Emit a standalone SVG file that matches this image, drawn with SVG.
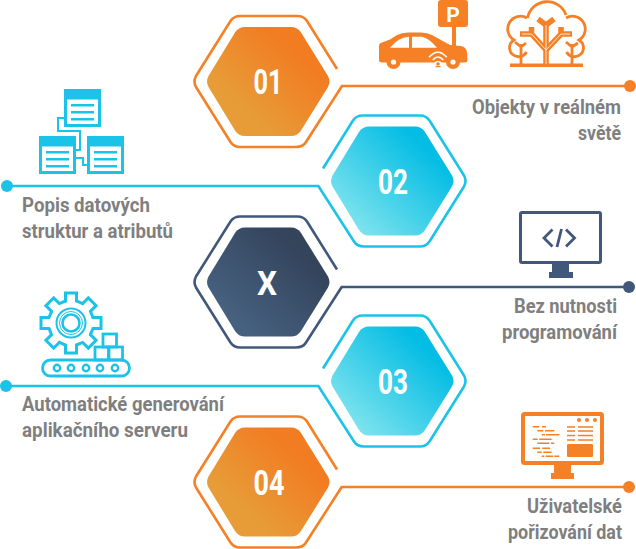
<svg xmlns="http://www.w3.org/2000/svg" xmlns:xlink="http://www.w3.org/1999/xlink" width="636" height="549" viewBox="0 0 636 549">
<style>
.lab{font-family:Roboto,"Liberation Sans",sans-serif;font-weight:700;font-size:19.500px;fill:#7f7f7f}
.num{font-family:Roboto,"Liberation Sans",sans-serif;font-weight:700;font-size:35px;fill:#fff;text-anchor:middle}
.outl{fill:none;stroke-width:2.600;stroke-linecap:butt}
.o{stroke:#f58025}.b{stroke:#1cc3e8}.d{stroke:#41587a}
.conn{stroke-width:2.600}
.bi{fill:none;stroke:#1cc3e8;stroke-width:2.800}
</style>
<defs>
<linearGradient id="go" x1="0.1" y1="0.85" x2="0.85" y2="0.15"><stop offset="0.2" stop-color="#e79c38"/><stop offset="0.85" stop-color="#f27c22"/></linearGradient>
<linearGradient id="gb" x1="0.1" y1="0.85" x2="0.85" y2="0.15"><stop offset="0" stop-color="#80e4ee"/><stop offset="0.9" stop-color="#05bde4"/></linearGradient>
<linearGradient id="gd" x1="0.1" y1="0.85" x2="0.85" y2="0.15"><stop offset="0.1" stop-color="#46607f"/><stop offset="0.9" stop-color="#33445b"/></linearGradient>
<path id="inner" d="M208.500,76 L235,32.500 Q238.500,27 245,27 L291,27 Q297.500,27 301,32.500 L328,76 Q331,81.500 328,87 L301,130.500 Q297.500,136 291,136 L245,136 Q238.500,136 235,130.500 L208.500,87 Q205.500,81.500 208.500,76 Z"/>
<path id="outer" d="M337,69 L307,21 Q304,16 297,16 L240,16 Q234,16 230.500,21 L196,76 Q193,81.500 196,87 L230.500,142 Q234,147 240,147 L296,147 Q303,147 306,142 L342,86"/>
<path id="tooth" d="M-5.500,-22 L-5.500,-30 L5.500,-30 L5.500,-22 L11.700,-19.400"/>
</defs>

<g id="connectors" class="conn">
<line x1="341" y1="86" x2="630" y2="86" stroke="#f58025"/><circle cx="630" cy="86" r="6" fill="#f58025"/>
<line x1="7" y1="186" x2="319" y2="186" stroke="#1cc3e8"/><circle cx="7" cy="186" r="6" fill="#1cc3e8"/>
<line x1="341" y1="287" x2="630" y2="287" stroke="#41587a"/><circle cx="629" cy="287" r="6" fill="#41587a"/>
<line x1="6" y1="386" x2="319" y2="386" stroke="#1cc3e8"/><circle cx="6" cy="386" r="6" fill="#1cc3e8"/>
<line x1="341" y1="487" x2="630" y2="487" stroke="#f58025"/><circle cx="629" cy="487" r="6" fill="#f58025"/>
</g>

<g id="node-01">
<use xlink:href="#inner" href="#inner" fill="url(#go)"/>
<use xlink:href="#outer" href="#outer" class="outl o"/>
<text class="num" x="268" y="94" textLength="29" lengthAdjust="spacingAndGlyphs">01</text>
<path d="M438,3 Q438,0 441,0 L465,0 Q468,0 468,3 L468,24 Q468,27 465,27 L441,27 Q438,27 438,24 Z" fill="#f58025"/>
<text x="453" y="22" font-family="Roboto,'Liberation Sans',sans-serif" font-weight="700" font-size="21" fill="#fff" text-anchor="middle">P</text>
<rect x="452" y="27" width="4" height="20" fill="#f58025"/>
<path d="M379,46 Q379,43 382,42.500 L390,39.500 L397,35 Q402,32.500 408,32.500 L421,32.500 Q427,32.500 432,35 L450,45 L461,46 Q466,47 467,52 L467.500,60 Q467.500,62.500 464,62.500 L382,62.500 Q379,62.500 379,60 Z" fill="#f58025"/>
<circle cx="393.500" cy="62" r="7" fill="#f58025"/><circle cx="393.500" cy="62" r="2.600" fill="#fff"/>
<circle cx="453" cy="62" r="7" fill="#f58025"/><circle cx="453" cy="62" r="2.600" fill="#fff"/>
<path d="M390,47.700 Q399,37 409,36.700 L409,47.700 Z M412,36.700 L422,36.700 Q429,38 437,47.700 L412,47.700 Z" fill="#fff"/>
<path d="M429,57.300 Q438,47 446.700,57.300 M432.700,60 Q438,54 443.300,60" fill="none" stroke="#fff" stroke-width="1.500"/>
<circle cx="438" cy="65" r="4" fill="#fff"/><circle cx="438" cy="64" r="1.800" fill="#f58025"/><rect x="435.500" y="66" width="5" height="1.200" fill="#f58025"/>
<g fill="none" stroke="#f58025" stroke-width="2.800">
<path d="M527.500,18 A20,20 0 0 1 566,15 M566,18 A11,11 0 0 1 579,40 A9,9 0 1 1 566.500,52 M527,18 A11,11 0 0 0 514,40 A9,9 0 1 0 526.500,52"/>
<path d="M521,65 V44 M515,42 L521,47 L526,43 M572,65 V44 M566,42 L572,47 L578,43"/>
</g>
<rect x="510" y="63.500" width="73" height="3.500" fill="#f58025"/>
<path d="M546,65 V26 M546,25 L538,19 M546,25 L554,19 M546,50 L531.500,34 L520,34 M531.500,34 V27 M546,50 L561,34 L572,34 M561,34 V27" fill="none" stroke="#f58025" stroke-width="5.500"/>
<path d="M546,64 V26 M546,50 L531.500,34 L522,34 M546,50 L561,34 L570,34" fill="none" stroke="#fff" stroke-width="0.800"/>
</g>

<g id="node-02">
<use xlink:href="#inner" href="#inner" transform="translate(124 99.500)" fill="url(#gb)"/>
<use xlink:href="#outer" href="#outer" transform="matrix(-1 0 0 1 660 99.500)" class="outl b"/>
<text class="num" x="393" y="194" textLength="30" lengthAdjust="spacingAndGlyphs">02</text>
<path d="M64,118 H58 V131 H80 V150 H76 M76,158 H83 V165 H87" fill="none" stroke="#1cc3e8" stroke-width="2"/>
<g fill="#1cc3e8">
<path fill-rule="evenodd" d="M64,89 H101 V127 H64 Z M67,99.500 V124 H98 V99.500 Z"/>
<path fill-rule="evenodd" d="M39,136 H76 V174 H39 Z M42,146.500 V171 H73 V146.500 Z"/>
<path fill-rule="evenodd" d="M87,136 H124 V174 H87 Z M90,146.500 V171 H121 V146.500 Z"/>
<path d="M71,104 H94 V106.500 H71 Z M71,111 H94 V113.500 H71 Z M71,118 H94 V120.500 H71 Z M46,151 H69 V153.500 H46 Z M46,158 H69 V160.500 H46 Z M46,165 H69 V167.500 H46 Z M94,151 H117 V153.500 H94 Z M94,158 H117 V160.500 H94 Z M94,165 H117 V167.500 H94 Z"/>
</g>
</g>

<g id="node-x">
<use xlink:href="#inner" href="#inner" transform="translate(0 200.500)" fill="url(#gd)"/>
<use xlink:href="#outer" href="#outer" transform="translate(0 200.500)" class="outl d"/>
<text class="num" x="267" y="295" style="font-size:33px" textLength="20" lengthAdjust="spacingAndGlyphs">X</text>
<rect x="520.500" y="212.500" width="80" height="50" rx="1.500" fill="none" stroke="#41587a" stroke-width="3"/>
<rect x="552" y="264" width="17" height="8" fill="#41587a"/><rect x="549" y="272" width="24" height="6" fill="#41587a"/>
<path d="M552.500,229.500 L544,238 L552.500,246.500 M566,229.500 L574.500,238 L566,246.500 M561.500,229 L557,247" fill="none" stroke="#41587a" stroke-width="2.800"/>
</g>

<g id="node-03">
<use xlink:href="#inner" href="#inner" transform="translate(124 299.500)" fill="url(#gb)"/>
<use xlink:href="#outer" href="#outer" transform="matrix(-1 0 0 1 660 299.500)" class="outl b"/>
<text class="num" x="393" y="394" textLength="30" lengthAdjust="spacingAndGlyphs">03</text>
<g transform="translate(71 323)" fill="none" stroke="#1cc3e8" stroke-width="3" stroke-linecap="round">
<use xlink:href="#tooth" href="#tooth"/><use xlink:href="#tooth" href="#tooth" transform="rotate(45)"/><use xlink:href="#tooth" href="#tooth" transform="rotate(90)"/><use xlink:href="#tooth" href="#tooth" transform="rotate(135)"/><use xlink:href="#tooth" href="#tooth" transform="rotate(180)"/><use xlink:href="#tooth" href="#tooth" transform="rotate(225)"/><use xlink:href="#tooth" href="#tooth" transform="rotate(270)"/><use xlink:href="#tooth" href="#tooth" transform="rotate(315)"/>
<circle r="14.500" stroke-width="2"/><circle r="11.500" stroke-width="1"/><circle r="8.500" stroke-width="2.600"/>
</g>
<g class="bi">
<rect x="42.500" y="360" width="87" height="16" rx="8"/>
<rect x="95" y="347" width="13.500" height="13"/><rect x="109" y="347" width="13.500" height="13"/><rect x="103" y="334" width="13.500" height="13"/>
<g stroke-width="2.400"><circle cx="57" cy="368" r="3.200"/><circle cx="71" cy="368" r="3.200"/><circle cx="86" cy="368" r="3.200"/><circle cx="100" cy="368" r="3.200"/><circle cx="115" cy="368" r="3.200"/></g>
</g>
</g>

<g id="node-04">
<use xlink:href="#inner" href="#inner" transform="translate(0 400.500)" fill="url(#go)"/>
<use xlink:href="#outer" href="#outer" transform="translate(0 400.500)" class="outl o"/>
<text class="num" x="269" y="495" textLength="31" lengthAdjust="spacingAndGlyphs">04</text>
<rect x="523" y="414" width="79" height="49" rx="1.500" fill="#fff" stroke="#f58025" stroke-width="4"/>
<rect x="554" y="465" width="17" height="8" fill="#f58025"/><rect x="551" y="473" width="23" height="6" fill="#f58025"/>
<g fill="#f58025"><circle cx="579" cy="420" r="2"/><circle cx="587" cy="420" r="2"/><circle cx="595" cy="420" r="2"/><rect x="567" y="444" width="26" height="13" rx="1"/></g>
<path d="M532.700,426.700 H539.300 M542,426.700 H546 M537.300,430.700 H543.300 M545,430.700 H554.300 M541.700,434.700 H545 M546,434.700 H559.300 M532.700,439.300 H537.700 M539.300,439.300 H551.700 M537.300,443.300 H549.300 M551,443.300 H554.300 M532.700,448.300 H540 M542.300,448.300 H550 M537.300,452.300 H541.700 M543.300,452.300 H551.700 M541.700,456.300 H544.300 M545.700,456.300 H553.300 M554.300,456.300 H559.300 M567,427 H575 M578,427 H593 M567,431 H575 M578,431 H593 M567,435.500 H575 M578,435.500 H593 M567,440 H575 M578,440 H593" fill="none" stroke="#f58025" stroke-width="1.500"/>
</g>

<g id="labels">
<text class="lab" x="621" y="114" text-anchor="end" textLength="149" lengthAdjust="spacingAndGlyphs">Objekty v reálném</text>
<text class="lab" x="621" y="140" text-anchor="end" textLength="43" lengthAdjust="spacingAndGlyphs">světě</text>
<text class="lab" x="22" y="212" textLength="128" lengthAdjust="spacingAndGlyphs">Popis datových</text>
<text class="lab" x="22" y="238" textLength="151" lengthAdjust="spacingAndGlyphs">struktur a atributů</text>
<text class="lab" x="617" y="313" text-anchor="end" textLength="103" lengthAdjust="spacingAndGlyphs">Bez nutnosti</text>
<text class="lab" x="617" y="339" text-anchor="end" textLength="115" lengthAdjust="spacingAndGlyphs">programování</text>
<text class="lab" x="22" y="411" textLength="202" lengthAdjust="spacingAndGlyphs">Automatické generování</text>
<text class="lab" x="22" y="437" textLength="166" lengthAdjust="spacingAndGlyphs">aplikačního serveru</text>
<text class="lab" x="622" y="513" text-anchor="end" textLength="95" lengthAdjust="spacingAndGlyphs">Uživatelské</text>
<text class="lab" x="622" y="539" text-anchor="end" textLength="114" lengthAdjust="spacingAndGlyphs">pořizování dat</text>
</g>
</svg>
